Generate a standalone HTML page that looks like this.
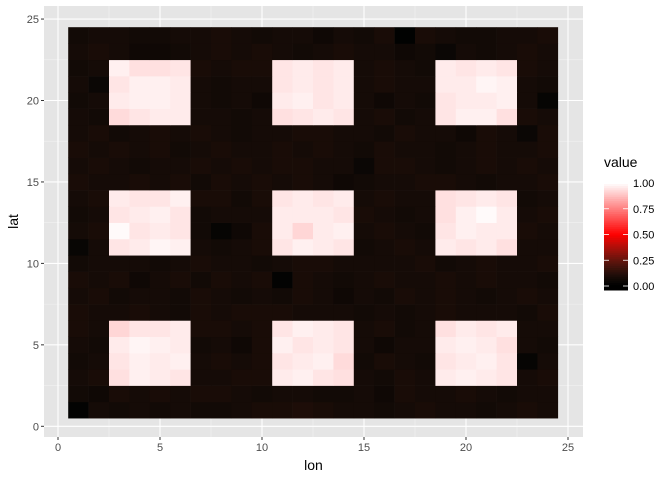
<!DOCTYPE html>
<html><head><meta charset="utf-8"><style>
body{margin:0;background:#fff;font-family:"Liberation Sans",sans-serif;}
svg text{font-family:"Liberation Sans",sans-serif;}
</style></head><body>
<svg id="c" width="672" height="480"></svg>
<script>
// rows = lat 1..24 (bottom to top), columns = lon 1..24, values in hundredths
const lons=[1,2,3,4,5,6,7,8,9,10,11,12,13,14,15,16,17,18,19,20,21,22,23,24];
const lats=[1,2,3,4,5,6,7,8,9,10,11,12,13,14,15,16,17,18,19,20,21,22,23,24];
const valueRows=[
"02 08 07 08 07 08 07 07 08 09 09 10 09 08 08 07 08 09 08 08 07 08 09 08",
"07 06 09 08 09 08 09 09 08 07 08 08 07 07 08 06 09 08 08 09 08 07 08 08",
"08 09 94 97 96 95 08 08 09 09 96 97 95 94 08 07 09 08 96 97 96 95 08 09",
"07 08 95 97 96 97 08 09 08 09 95 96 97 93 07 09 08 07 95 96 97 95 03 08",
"08 07 96 98 97 96 07 08 06 09 97 95 96 95 08 06 08 08 96 97 96 94 08 07",
"09 08 92 95 95 96 09 09 08 09 95 97 96 95 08 09 07 08 94 96 95 96 08 08",
"09 08 08 09 08 07 09 08 09 09 09 08 08 08 07 08 07 08 09 08 08 08 07 09",
"08 09 07 08 08 07 09 08 07 08 07 09 08 06 08 07 09 08 09 08 07 08 09 08",
"09 08 09 06 08 09 07 09 08 09 02 09 08 07 08 09 08 08 09 08 09 08 08 07",
"07 08 08 08 07 08 09 08 08 07 08 09 09 08 08 08 08 09 07 08 09 08 08 09",
"04 08 95 96 98 97 08 07 08 09 95 97 96 95 07 08 09 08 96 95 96 94 08 08",
"08 09 99 95 96 95 07 03 06 09 96 92 96 97 08 09 08 07 95 97 96 96 09 08",
"07 08 95 96 97 95 07 08 08 08 96 96 96 95 09 08 07 08 94 97 99 96 08 09",
"08 09 96 95 95 97 09 09 07 09 95 96 95 96 08 09 08 08 94 95 96 95 07 08",
"09 08 08 09 08 09 07 09 08 09 08 09 08 06 07 08 08 09 09 08 07 08 08 09",
"08 09 08 07 08 08 09 08 09 08 09 09 08 08 05 09 09 08 07 08 09 08 09 08",
"09 08 09 08 09 07 08 09 08 08 09 08 09 08 07 09 08 08 07 08 09 08 08 09",
"08 09 07 08 09 08 09 08 07 08 08 09 09 08 08 07 09 08 08 06 09 08 05 09",
"08 07 93 95 96 96 08 08 07 08 94 95 96 95 08 09 07 08 95 97 97 94 09 08",
"07 08 96 97 97 96 08 07 08 06 96 97 95 96 08 06 08 07 95 96 96 97 08 03",
"08 05 95 97 97 96 08 07 08 08 95 96 95 96 08 09 08 08 96 96 98 97 08 07",
"07 08 97 94 94 95 09 08 09 09 95 96 95 96 08 09 08 07 96 95 96 95 09 08",
"08 09 08 06 06 07 08 09 08 09 08 07 08 09 08 08 06 07 05 08 07 08 09 08",
"07 08 08 07 07 08 08 09 08 07 08 08 06 08 07 09 01 09 08 07 07 08 08 09"
];
const xTicks=[0,5,10,15,20,25];
const yTicks=[0,5,10,15,20,25];
const legendTicks=[0,0.25,0.5,0.75,1];
const legendLabels=["0.00","0.25","0.50","0.75","1.00"];

const NS="http://www.w3.org/2000/svg";
const svg=document.getElementById('c');
function mk(t,a,p){const e=document.createElementNS(NS,t);for(const k in a)e.setAttribute(k,a[k]);(p||svg).appendChild(e);return e;}
const PL=44,PT=6,PR=583,PB=437;
const X=v=>58+v*20.4, Y=v=>426.3-v*16.29;
function col(v){
  let r,g,b;
  if(v<=0.5){const t=v/0.5;r=255*Math.pow(t,1.35);g=80*t*(1-t);b=50*t*(1-t);}
  else{const s=(v-0.5)/0.5;r=255;g=255*s;b=255*s;}
  return `rgb(${Math.round(r)},${Math.round(g)},${Math.round(b)})`;
}
const panel=mk('rect',{x:PL,y:PT,width:PR-PL,height:PB-PT,fill:'#e5e5e5'});


for(let i=0;i<xTicks.length-1;i++){const m=(xTicks[i]+xTicks[i+1])/2;const l=mk('line',{x1:X(m),x2:X(m),y1:PT,y2:PB,stroke:'#f2f2f2','stroke-width':0.6});}
for(let i=0;i<yTicks.length-1;i++){const m=(yTicks[i]+yTicks[i+1])/2;const l=mk('line',{y1:Y(m),y2:Y(m),x1:PL,x2:PR,stroke:'#f2f2f2','stroke-width':0.6});}
xTicks.forEach(t=>{const l=mk('line',{x1:X(t),x2:X(t),y1:PT,y2:PB,stroke:'#fff','stroke-width':1.1});
 const k=mk('line',{x1:X(t),x2:X(t),y1:PB,y2:PB+3,stroke:'#333'});
 const tx=mk('text',{x:X(t),y:PB+14,'text-anchor':'middle','font-size':11,fill:'#4d4d4d'});tx.textContent=t;});
yTicks.forEach(t=>{const l=mk('line',{y1:Y(t),y2:Y(t),x1:PL,x2:PR,stroke:'#fff','stroke-width':1.1});
 const k=mk('line',{y1:Y(t),y2:Y(t),x1:PL-3,x2:PL,stroke:'#333'});
 const tx=mk('text',{x:PL-5,y:Y(t)+4,'text-anchor':'end','font-size':11,fill:'#4d4d4d'});tx.textContent=t;});
const cells=mk('g',{});


valueRows.forEach((row,ri)=>{row.split(' ').forEach((s,ci)=>{const v=parseInt(s,10)/100;const lat=lats[ri],lon=lons[ci];
 const x0=X(lon-0.5),x1=X(lon+0.5),y0=Y(lat+0.5),y1=Y(lat-0.5);
 const r=mk('rect',{x:x0,y:y0,width:x1-x0+0.3,height:y1-y0+0.3,fill:col(v)},cells);
 
 });});
const xl=mk('text',{x:(PL+PR)/2,y:470,'text-anchor':'middle','font-size':14,fill:'#000'});xl.textContent='lon';

const yl=mk('text',{x:18,y:(PT+PB)/2,'text-anchor':'middle','font-size':14,fill:'#000',transform:`rotate(-90 18 ${(PT+PB)/2})`});yl.textContent='lat';

// legend
const lg=mk('g',{});
const lt=mk('text',{x:604,y:167,'font-size':14,fill:'#000'},lg);lt.textContent='value';

const LB0=290,LB1=178,LX=604,LW=24;
const LY=v=>286-v*(286-183);
for(let i=0;i<60;i++){const yTop=LB0-(i+1)*(LB0-LB1)/60,h=(LB0-LB1)/60+0.5;const ym=yTop+h/2;
 const v=Math.max(0,Math.min(1,(286-ym)/(286-183)));
 const r=mk('rect',{x:LX,y:yTop,width:LW,height:h,fill:col(v)},lg);
 }
legendTicks.forEach((t,i)=>{const y=LY(t);
 mk('line',{x1:LX,x2:LX+5,y1:y,y2:y,stroke:'#fff','stroke-width':0.8},lg);
 mk('line',{x1:LX+LW-5,x2:LX+LW,y1:y,y2:y,stroke:'#fff','stroke-width':0.8},lg);
 const tx=mk('text',{x:LX+LW+5,y:y+4,'font-size':11,fill:'#000'},lg);tx.textContent=legendLabels[i];
 });
</script>
</body></html>
